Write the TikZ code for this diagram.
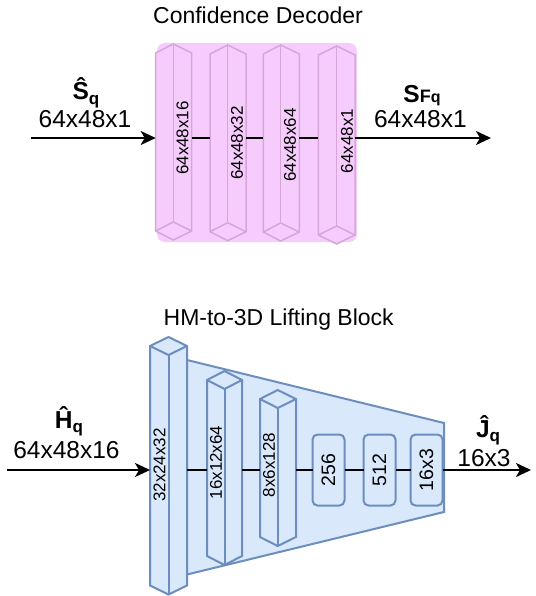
\documentclass[tikz,border=0pt]{standalone}
\usepackage{fontspec}
\setmainfont{Liberation Sans}
\usetikzlibrary{arrows.meta}
\definecolor{pinkfill}{RGB}{246,204,252}
\definecolor{pinkline}{RGB}{214,166,219}
\definecolor{bluefill}{HTML}{DAE8FC}
\definecolor{blueline}{HTML}{6C8EBF}
\tikzset{
  pinkshape/.style={fill=pinkfill, draw=pinkline, line width=1.5pt, line join=miter},
  blueshape/.style={fill=bluefill, draw=blueline, line width=2pt, line join=miter},
  pinkedge/.style={draw=pinkline, line width=1.5pt},
  blueedge/.style={draw=blueline, line width=2pt},
  conn/.style={draw=black, line width=2pt},
  arr/.style={conn, -{Stealth[length=15pt,width=14pt,inset=4pt]}},
  hook/.style={inner sep=0pt, outer sep=0pt, minimum height=2pt, draw=none},
  lbl/.style={inner sep=0pt, font=\fontsize{24.5}{29}\selectfont, anchor=base},
  ttl/.style={inner sep=0pt, font=\fontsize{23}{28}\selectfont, anchor=base},
  vlbl/.style={inner sep=0pt, rotate=90, font=\fontsize{17}{20}\selectfont},
  rlbl/.style={inner sep=0pt, rotate=90, font=\fontsize{19.5}{22}\selectfont},
  rrect/.style={fill=bluefill, draw=blueline, line width=2pt, rounded corners=5pt,
     minimum width=32pt, minimum height=71pt, inner sep=0pt, outer sep=0pt},
}
% L M R T B
\newcommand{\pinkcube}[5]{%
  \draw[pinkshape] (#1,#4+9) -- (#2,#4) -- (#3,#4+9) -- (#3,#5-9) -- (#2,#5) -- (#1,#5-9) -- cycle;
  \draw[pinkedge] (#2,#4) -- (#2,#5-18);
  \draw[pinkedge] (#1,#5-9) -- (#2,#5-18) -- (#3,#5-9);
}
\newcommand{\bluecube}[5]{%
  \draw[blueshape] (#1,#4+9) -- (#2,#4) -- (#3,#4+9) -- (#3,#5-9) -- (#2,#5) -- (#1,#5-9) -- cycle;
  \draw[blueedge] (#1,#4+9) -- (#2,#4+18) -- (#3,#4+9);
  \draw[blueedge] (#2,#4+18) -- (#2,#5);
}
\newcommand{\subq}{\raisebox{-4.5pt}{\fontsize{17}{17}\selectfont\bfseries q}}
\begin{document}
\begin{tikzpicture}[x=1pt, y=-1pt]
\useasboundingbox (0,0) rectangle (535,596);

% ---------------- Confidence Decoder ----------------
\node[ttl] (t1) at (258,23.3) {Confidence Decoder};
\fill[pinkfill, rounded corners=8pt] (157,43) rectangle (357,242);
\pinkcube{155.7}{173.3}{191.7}{44}{240}
\pinkcube{210}{227.7}{246}{45}{240.7}
\pinkcube{263.3}{280.7}{299.3}{45}{241}
\pinkcube{318.3}{336.7}{355}{46}{244}

\node[hook, minimum width=36pt] (pc1) at (173.7,138) {};
\node[hook, minimum width=36pt] (pc2) at (228,138) {};
\node[hook, minimum width=36pt] (pc3) at (281.3,138) {};
\node[hook, minimum width=36.7pt] (pc4) at (336.65,138) {};

\node[vlbl] (pl1) at (182.5,138) {64x48x16};
\node[vlbl] (pl2) at (237,143) {64x48x32};
\node[vlbl] (pl3) at (290,145) {64x48x64};
\node[vlbl] (pl4) at (347,141) {64x48x1};

\coordinate (pin) at (31,138);
\coordinate (pout) at (491,138);
\draw[arr] (pin) -- (pc1.west);
\draw[conn] (pc1.east) -- (pc2.west);
\draw[conn] (pc2.east) -- (pc3.west);
\draw[conn] (pc3.east) -- (pc4.west);
\draw[arr] (pc4.east) -- (pout);

\node[lbl] (sq) at (86,100) {\bfseries Ŝ\subq};
\node[lbl] (sqd) at (85,128) {64x48x1};
\node[lbl] (sf) at (422,103) {\bfseries S{\fontsize{18}{18}\selectfont F}{\fontsize{16}{16}\selectfont q}};
\node[lbl] (sfd) at (420.4,128) {64x48x1};

% ---------------- HM-to-3D Lifting Block ----------------
\node[ttl] (t2) at (278.7,325) {HM-to-3D Lifting Block};
\draw[blueshape] (185,359.5) -- (444,423) -- (444,512) -- (185,575) -- cycle;
\bluecube{150}{168.5}{187}{337}{594.5}
\bluecube{207}{224.5}{242}{371}{565}
\bluecube{260}{277.7}{296}{390}{546}

\node[hook, minimum width=37pt] (bc1) at (168.5,470) {};
\node[hook, minimum width=35pt] (bc2) at (224.5,470) {};
\node[hook, minimum width=36pt] (bc3) at (278,470) {};

\node[vlbl] (bl1) at (159.5,465) {32x24x32};
\node[vlbl] (bl2) at (216,462.5) {16x12x64};
\node[vlbl] (bl3) at (269,465) {8x6x128};

\node[rrect] (r1) at (328.5,470) {};
\node[rrect] (r2) at (379.5,470) {};
\node[rrect] (r3) at (426.5,470) {};
\node[rlbl] (r1t) at (r1) {256};
\node[rlbl] (r2t) at (r2) {512};
\node[rlbl] (r3t) at (r3) {16x3};

\coordinate (hin) at (7,470);
\coordinate (hout) at (531,470);
\draw[arr] (hin) -- (bc1.west);
\draw[conn] (bc1.east) -- (bc2.west);
\draw[conn] (bc2.east) -- (bc3.west);
\draw[conn] (bc3.east) -- (r1.west);
\draw[conn] (r1.east) -- (r2.west);
\draw[conn] (r2.east) -- (r3.west);
\draw[arr] (r3.east) -- (hout);

\node[lbl] (hq) at (69,428) {\bfseries Ĥ\subq};
\node[lbl] (hqd) at (66.5,458) {64x48x16};
\node[lbl] (jq) at (488,437) {\bfseries Ĵ\subq};
\node[lbl] (jqd) at (484,466.7) {16x3};
\end{tikzpicture}
\end{document}
